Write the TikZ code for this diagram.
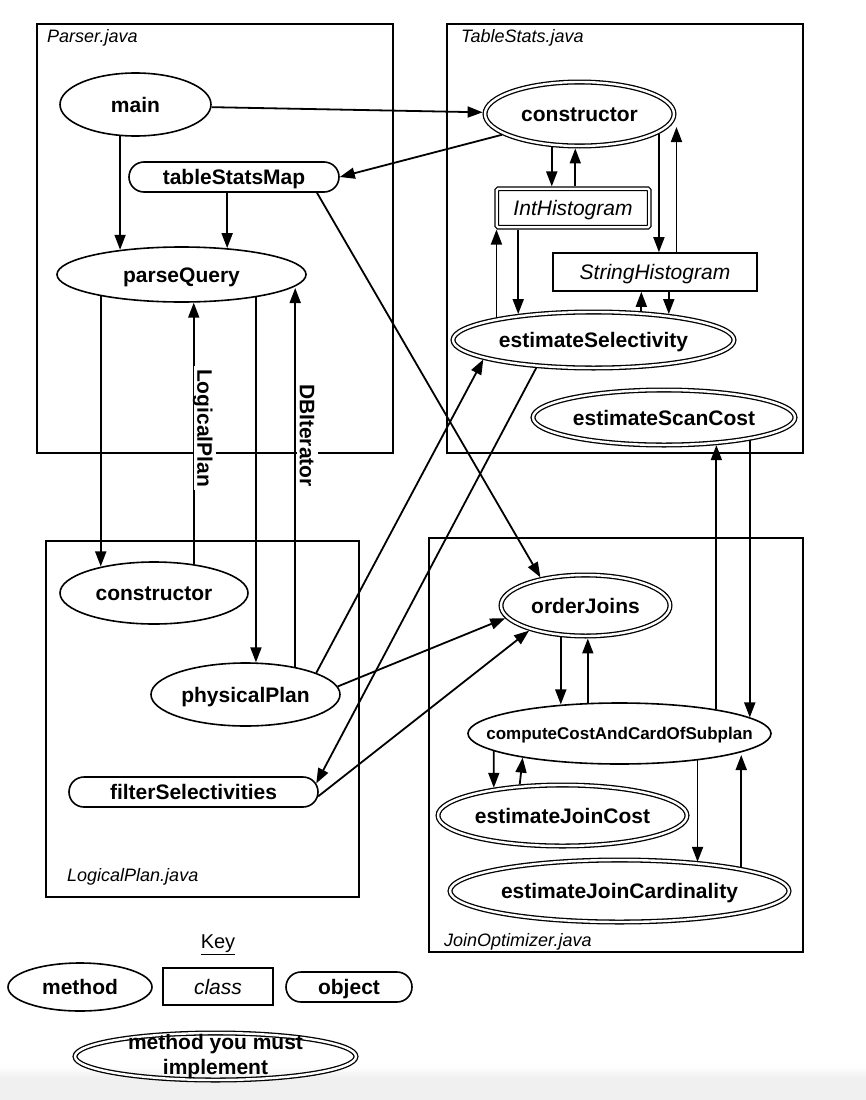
\documentclass[tikz,border=0pt]{standalone}
\usepackage{fontspec}
\setmainfont{Liberation Sans}
\usetikzlibrary{shapes.geometric,shapes.misc,arrows.meta,calc}
\newcommand\myB{\fontsize{21}{25}\selectfont\bfseries}
\newcommand\myI{\fontsize{21}{25}\selectfont\itshape}
\newcommand\myL{\fontsize{18}{21}\selectfont\itshape}
\newcommand\myS{\fontsize{17}{20}\selectfont\bfseries}
\newcommand\myK{\fontsize{20}{24}\selectfont}
\begin{document}
\begin{tikzpicture}[x=1pt,y=-1pt,
  every node/.style={inner sep=0pt},
  cluster/.style={draw, line width=1.6pt, rectangle, inner sep=0pt},
  clabel/.style={font=\myL, anchor=base west},
  meth/.style={ellipse, draw, line width=1.6pt, inner xsep=-40pt, inner ysep=-10pt, text height=15.5pt, text depth=0pt, font=\myB},
  must/.style={meth, double, double distance=2.4pt, line width=1.3pt, outer sep=2.5pt},
  cls/.style={rectangle, draw, line width=1.6pt, text height=15.5pt, text depth=0pt, font=\myI},
  dcls/.style={cls, double, double distance=2.2pt, line width=1.3pt, outer sep=2.3pt, rounded corners=1.5pt},
  obj/.style={rounded rectangle, draw, line width=1.6pt, text height=15.5pt, text depth=0pt, font=\myB},
  arr/.style={-{Triangle[length=15pt,width=11pt]}, line width=1.8pt},
  elabel/.style={fill=white, font=\myB, rotate=-90, inner sep=3pt, text height=15.5pt, text depth=0pt},
]
\useasboundingbox (0,0) rectangle (866,1100);
\fill[white] (0,0) rectangle (866,1100);
\shade[top color=white, bottom color=black!6] (0,1066) rectangle (866,1078);
\fill[black!6] (0,1078) rectangle (866,1100);

% clusters
\node[cluster, minimum width=356pt, minimum height=429pt] (parserBox) at (215,238.5) {};
\node[cluster, minimum width=356pt, minimum height=429pt] (tsBox) at (625,238.5) {};
\node[cluster, minimum width=313pt, minimum height=356pt] (lpBox) at (202.5,719) {};
\node[cluster, minimum width=374pt, minimum height=414pt] (joBox) at (616,745) {};
\node[clabel] (lParser) at (47,42.7) {Parser.java};
\node[clabel] (lTS) at (461,42.5) {TableStats.java};
\node[clabel] (lLP) at (67,881.7) {LogicalPlan.java};
\node[clabel] (lJO) at (444,946) {JoinOptimizer.java};

% nodes
\node[meth, minimum width=151pt, minimum height=63pt] (main) at (135.5,104.5) {main};
\node[obj, minimum width=210pt, minimum height=30pt] (tsm) at (234,177) {tableStatsMap};
\node[meth, minimum width=249pt, minimum height=55pt] (pq) at (181.5,274.5) {parseQuery};
\node[must, minimum width=189pt, minimum height=64pt] (tsC) at (579.5,114) {constructor};
\node[dcls, minimum width=152.5pt, minimum height=38.5pt] (ih) at (573,208) {IntHistogram};
\node[cls, minimum width=204pt, minimum height=38pt] (sh) at (655,272) {StringHistogram};
\node[must, minimum width=281pt, minimum height=56pt] (es) at (593.5,340) {estimateSelectivity};
\node[must, minimum width=262pt, minimum height=55pt] (esc) at (664,417.5) {estimateScanCost};
\node[meth, minimum width=188pt, minimum height=62pt] (lpC) at (154,593) {constructor};
\node[meth, minimum width=189pt, minimum height=63pt] (pp) at (245.5,694.5) {physicalPlan};
\node[obj, minimum width=249pt, minimum height=30pt] (fs) at (193.5,792) {filterSelectivities};
\node[must, minimum width=169pt, minimum height=61pt] (oj) at (585.5,605.5) {orderJoins};
\node[meth, font=\myS, text height=12.6pt, minimum width=303pt, minimum height=61pt] (cc) at (619.5,733.5) {computeCostAndCardOfSubplan};
\node[must, minimum width=249pt, minimum height=61pt] (ejc) at (562.5,815.5) {estimateJoinCost};
\node[must, minimum width=339pt, minimum height=62pt] (ejd) at (619.5,891) {estimateJoinCardinality};

% key
\node[font=\myK, anchor=base] (keyT) at (218,948.3) {\underline{Key}};
\node[meth, minimum width=144pt, minimum height=48pt] (kMeth) at (80,987) {method};
\node[cls, minimum width=110pt, minimum height=37pt] (kCls) at (218,986.5) {class};
\node[obj, minimum width=126pt, minimum height=30pt] (kObj) at (349,987) {object};
\node[must, align=center, text height={}, text depth={}, minimum width=281pt, minimum height=47pt] (kMust) at (215.5,1056.5) {method you must\\implement};

% edges
\draw[arr] (main.244.4) -- (main.244.4 |- pq.158.5);
\draw[arr] (tsm.south -| pq.30.7) -- (pq.30.7);
\draw[arr] (pq.195.2) -- (pq.195.2 |- lpC.153);
\draw[arr] (lpC.36.8) -- (lpC.36.8 |- pq.291);
\draw[arr] (pq.343.2) -- (pq.343.2 |- pp.73.1);
\draw[arr] (pp.29.8) -- (pp.29.8 |- pq.353.8);
\draw[arr] (main.-2) -- (tsC.179);
\draw[arr] (tsC.195.7) -- (tsm.east);
\draw[arr] ([xshift=83pt]tsm.south) -- (oj.148.9);
\draw[arr] (pp.17.2) -- (es.190.3);
\draw[arr] (es.206) -- (fs.4.6);
\draw[arr] (pp.5) -- (oj.189.5);
\draw[arr] (fs.-2.4) -- (oj.204.5);
\draw[arr] (oj.232.2) -- (oj.232.2 |- cc.153.5);
\draw[arr] (cc.136.6) -- (cc.136.6 |- oj.274.7);
\draw[arr] (cc.188.5) -- (ejc.158.5);
\draw[arr] (ejc.144.8) -- (cc.194.4);
\draw[arr] (cc.341.55) -- (cc.341.55 |- ejd.19.4);
\draw[arr] (ejd.11.7) -- (ejd.11.7 |- cc.349.65);
\draw[arr] (esc.345.55) -- (esc.345.55 |- cc.7.44);
\draw[arr] (cc.14.4) -- (cc.14.4 |- esc.332.4);
\draw[arr] (tsC.230.4) -- (tsC.230.4 |- ih.north);
\draw[arr] (ih.north -| tsC.263.2) -- (tsC.263.2);
\draw[arr] (tsC.346.7) -- (tsC.346.7 |- sh.north);
\draw[arr] (sh.north -| tsC.east) -- ([yshift=-13pt]tsC.east);
\draw[arr] (ih.south -| es.161.8) -- (es.161.8);
\draw[arr] (es.167.15) -- (es.167.15 |- ih.south);
\draw[arr] (es.31.45) -- (es.31.45 |- sh.south);
\draw[arr] (sh.south -| es.19.76) -- (es.19.76);

% edge labels
\node[elabel] (lblLP) at (205,428) {LogicalPlan};
\node[elabel] (lblDB) at (307.5,435.5) {DBIterator};
\end{tikzpicture}
\end{document}
